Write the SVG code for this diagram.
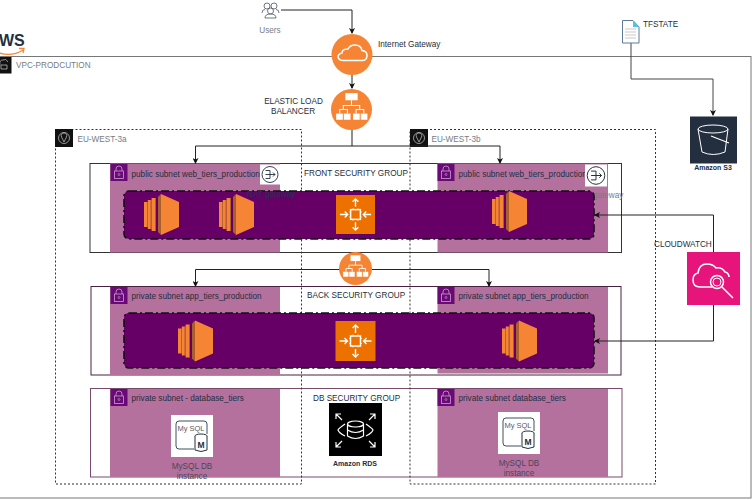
<svg xmlns="http://www.w3.org/2000/svg" width="752" height="500" viewBox="0 0 752 500">
<style>
text{font-family:"Liberation Sans",Arial,sans-serif;font-size:8.2px;fill:#232F3E}
.g{fill:#777c82}
.d{fill:#4a4658}
.m{text-anchor:middle}
.b{font-weight:bold;font-size:7px}
.az{fill:none;stroke:#333;stroke-width:1;stroke-dasharray:2 2}
.sg{fill:#fff;stroke-width:1}
.sn{fill:#B5719D}
.pg{fill:#660066;stroke:#111;stroke-width:1.6;stroke-dasharray:8 3 2 3}
.c{fill:none;stroke:#222;stroke-width:1}
.w{fill:none;stroke:#fff;stroke-width:1.5}
</style>
<defs>
<marker id="a" markerWidth="6" markerHeight="6" refX="5" refY="3" orient="auto"><path d="M0 0L6 3L0 6L1.500 3Z" fill="#111"/></marker>
<symbol id="lock" viewBox="0 0 17 17" overflow="visible">
<rect width="17" height="17" fill="#6A0A78"/>
<rect x="4" y="7" width="9" height="7.500" fill="none" stroke="#C9A0C8" stroke-width=".8"/>
<path d="M5.500 7V5a3 3 0 0 1 6 0V7" fill="none" stroke="#C9A0C8" stroke-width=".8"/>
<circle cx="8.500" cy="10.500" r="1" fill="none" stroke="#C9A0C8" stroke-width=".6"/>
</symbol>
<symbol id="ec2" viewBox="0 0 35 41" overflow="visible">
<rect x="0" y="8" width="3" height="25" fill="#F58534"/><rect x="3" y="8" width=".8" height="25" fill="#B5702C"/>
<rect x="3.800" y="6" width="3" height="29" fill="#F58534"/><rect x="6.800" y="6" width=".8" height="29" fill="#B5702C"/>
<rect x="7.600" y="4" width="3.600" height="33" fill="#F58534"/><rect x="11.200" y="4" width=".8" height="33" fill="#B5702C"/>
<path d="M14 3L17 0V41L14 38Z" fill="#A85F2A"/>
<path d="M17 0L35 8V33L17 41Z" fill="#F58534"/>
</symbol>
<symbol id="chip" viewBox="0 0 40 40" overflow="visible">
<rect width="40" height="40" fill="#ED7100"/>
<g fill="none" stroke="#fff" stroke-width="1.500">
<rect x="15" y="15" width="10" height="10"/>
<path d="M20 12V4M17 7L20 4L23 7M20 28V36M17 33L20 36L23 33M4 20H12M9 17L12 20L9 23M36 20H28M31 17L28 20L31 23" stroke-width="1.400"/>
<path d="M17.500 15V13.500M22.500 15V13.500M17.500 25V26.500M22.500 25V26.500M15 17.500H13.500M15 22.500H13.500M25 17.500H26.500M25 22.500H26.500" stroke-width=".7"/>
</g>
</symbol>
<symbol id="nat" viewBox="0 0 20 20" overflow="visible">
<rect width="20" height="20" fill="#fff"/>
<circle cx="10" cy="10" r="8" fill="none" stroke="#232F3E" stroke-width=".9"/>
<path d="M5.500 6H10V14H5.500M5.500 10H15M13 8L15 10L13 12" fill="none" stroke="#232F3E" stroke-width=".9"/>
</symbol>
<symbol id="mysql" viewBox="0 0 42 42" overflow="visible">
<rect width="42" height="42" fill="#fff"/>
<path d="M23 34H8Q5 34 5 31V9Q5 6 8 6H33Q36 6 36 9V19" fill="none" stroke="#3F4E5F" stroke-width="1"/>
<text x="20" y="16" class="m" style="font-size:7.500px;fill:#55606c">My SQL</text>
<ellipse cx="30" cy="21" rx="6" ry="2" fill="#fff" stroke="#232F3E"/>
<path d="M24 21V35Q30 38 36 35V21" fill="#fff" stroke="#232F3E"/>
<text x="30" y="33" class="m" style="font-size:8.500px;font-weight:bold">M</text>
</symbol>
<symbol id="alb" viewBox="-20 -20 40 40" overflow="visible">
<circle r="20" fill="#F58534"/>
<g fill="#fff"><rect x="-6" y="-16" width="12" height="7"/><rect x="-15" y="4" width="6.500" height="6"/><rect x="-7.500" y="4" width="6.500" height="6"/><rect x="1.500" y="4" width="6.500" height="6"/><rect x="9" y="4" width="6.500" height="6"/></g>
<path d="M0 -9V-4M-8 0V-4H8V0M-11.500 4V0H-4V4M4.500 4V0H12V4" fill="none" stroke="#fff" stroke-width="1"/>
</symbol>
</defs>

<g id="vpc">
<rect x="-10" y="56.500" width="761" height="441.500" fill="none" stroke="#777" stroke-width="1"/>
<rect x="-6" y="57" width="17.500" height="16.500" fill="#111"/>
<path d="M1 69H7V65H1ZM0 65Q-1 60 3 60Q6 58 8 62" fill="none" stroke="#ccc" stroke-width=".7"/>
<text x="16" y="68" class="g">VPC-PRODCUTION</text>
</g>
<g id="aws-logo">
<text x="-1" y="46" style="font-size:16px;font-weight:bold">WS</text>
<path d="M-1 53Q12 57 23 50M19 48.500L24 48.500L23 53" fill="none" stroke="#F58534" stroke-width="1.300"/>
</g>

<g id="front-sg"><rect class="sg" x="90" y="163.500" width="531.500" height="89" stroke="#333"/><text x="304" y="175.500">FRONT SECURITY GROUP</text></g>
<g id="back-sg"><rect class="sg" x="91" y="286.500" width="530" height="88.500" stroke="#4a2040"/><text x="307" y="298">BACK SECURITY GROUP</text></g>
<g id="db-sg"><rect class="sg" x="90.500" y="388.500" width="531.500" height="88.500" stroke="#7a4a6a"/><text x="313" y="400.500">DB SECURITY GROUP</text></g>

<g id="az-a"><rect class="az" x="55.500" y="129.500" width="246" height="354.500"/><rect x="55" y="129" width="18" height="18" fill="#111"/><circle cx="64" cy="138" r="5.500" fill="none" stroke="#ccc" stroke-width=".7"/><path d="M64 142L61.500 137a2.800 2.800 0 1 1 5 0Z" fill="none" stroke="#ccc" stroke-width=".7"/><text x="77.500" y="141.500" class="g">EU-WEST-3a</text></g>
<g id="az-b"><rect class="az" x="410" y="129.500" width="245.500" height="354.500"/><rect x="410" y="129" width="18" height="18" fill="#111"/><circle cx="419" cy="138" r="5.500" fill="none" stroke="#ccc" stroke-width=".7"/><path d="M419 142L416.500 137a2.800 2.800 0 1 1 5 0Z" fill="none" stroke="#ccc" stroke-width=".7"/><text x="431.500" y="141.500" class="g">EU-WEST-3b</text></g>

<g id="subnet-pub-a"><rect class="sn" x="110" y="163.500" width="170" height="89"/><use href="#lock" x="110.500" y="164" width="17" height="17"/><text x="131.500" y="176.500">public subnet web_tiers_production</text><use href="#nat" x="260" y="164" width="20" height="21"/></g>
<g id="subnet-pub-b"><rect class="sn" x="437.500" y="163.500" width="170.500" height="89"/><use href="#lock" x="437.500" y="164" width="17" height="17"/><text x="458.500" y="176.500">public subnet web_tiers_production</text><use href="#nat" x="585" y="164" width="22" height="23"/><text x="575" y="198" class="g">NAT gateway</text></g>
<g id="subnet-app-a"><rect class="sn" x="110" y="287" width="170" height="88"/><use href="#lock" x="110.500" y="287" width="17" height="17"/><text x="131.500" y="298.500">private subnet app_tiers_production</text></g>
<g id="subnet-app-b"><rect class="sn" x="437.500" y="287" width="170.500" height="86.500"/><use href="#lock" x="437.500" y="287" width="17" height="17"/><text x="458.500" y="298.500">private subnet app_tiers_production</text></g>
<g id="subnet-db-a"><rect class="sn" x="110" y="389" width="170" height="88"/><use href="#lock" x="110.500" y="389" width="17" height="17"/><text x="131.500" y="400.500">private subnet - database_tiers</text><use href="#mysql" x="171" y="415" width="42" height="42"/><text x="192" y="469" class="m d">MySQL DB</text><text x="192" y="478.500" class="m d">instance</text></g>
<g id="subnet-db-b"><rect class="sn" x="437.500" y="389" width="170.500" height="88"/><use href="#lock" x="437.500" y="389" width="17" height="17"/><text x="458.500" y="400.500">private subnet database_tiers</text><use href="#mysql" x="498" y="412" width="42" height="42"/><text x="519" y="465.500" class="m d">MySQL DB</text><text x="519" y="475.500" class="m d">instance</text></g>

<g id="asg-front"><rect class="pg" x="124" y="191" width="470" height="48" rx="5"/></g>
<g id="asg-back"><rect class="pg" x="124" y="313" width="470" height="55" rx="5"/></g>
<text x="247" y="197" style="fill:#2b2f55">NAT gateway</text>

<g id="ec2-1"><use href="#ec2" x="144" y="194" width="35" height="41"/></g>
<g id="ec2-2"><use href="#ec2" x="219" y="194" width="35" height="41"/></g>
<g id="ec2-3"><use href="#ec2" x="492" y="191" width="35" height="41"/></g>
<g id="ec2-4"><use href="#ec2" x="178" y="320.500" width="35" height="41"/></g>
<g id="ec2-5"><use href="#ec2" x="502" y="320.500" width="35" height="41"/></g>
<g id="asg-icon-1"><use href="#chip" x="336" y="195" width="39" height="39"/></g>
<g id="asg-icon-2"><use href="#chip" x="335" y="321" width="41" height="40"/></g>

<g id="connectors">
<path class="c" d="M281 10H352V33" marker-end="url(#a)"/>
<path class="c" d="M352 74V88" marker-end="url(#a)"/>
<path class="c" d="M352 129V146H195.500V163" marker-end="url(#a)"/>
<path class="c" d="M352 146H500V163" marker-end="url(#a)"/>
<path class="c" d="M340 269.500H195.500V286" marker-end="url(#a)"/>
<path class="c" d="M372 269.500H489V286" marker-end="url(#a)"/>
<path d="M631 43V79H713V115" fill="none" stroke="#444" stroke-width="1" marker-end="url(#a)"/>
<path class="c" d="M713.500 252V215H595" marker-end="url(#a)"/>
<path class="c" d="M713.500 305V341H595" marker-end="url(#a)"/>
</g>

<g id="users"><g fill="none" stroke="#4a5560" stroke-width=".8"><circle cx="267" cy="6" r="3"/><circle cx="274" cy="6" r="3"/><circle cx="270.500" cy="11" r="3"/><path d="M262 13Q262 9.500 265 9.500M279 13Q279 9.500 276 9.500M265 18Q265 14 270.500 14Q276 14 276 18Z"/></g><text x="270" y="32.500" class="m g">Users</text></g>
<g id="internet-gateway"><circle cx="352" cy="54.500" r="20.500" fill="#F58534"/><path class="w" d="M343 60.500H362Q367 60.500 367 55.500Q367 51 362 50.500Q361 45 355 45Q350 45 348 49Q342 49 342 53Q338 54 338 57Q339 60.500 343 60.500Z"/><text x="378" y="47">Internet Gateway</text></g>
<g id="elb"><use href="#alb" x="331" y="89" width="41" height="41"/><text x="293.500" y="103.500" class="m">ELASTIC LOAD</text><text x="293" y="113.500" class="m">BALANCER</text></g>
<g id="alb-internal"><use href="#alb" x="339" y="252" width="33" height="33"/></g>
<g id="tfstate"><path d="M622.500 20.500H633L639 27V43H622.500Z" fill="#fff" stroke="#5d7a9c"/><path d="M633 20.500V27H639Z" fill="#4FC3E8"/><path d="M625 29H636M625 32H636M625 35H636M625 38H636" stroke="#bbb" stroke-width=".8"/><text x="643" y="26.500">TFSTATE</text></g>
<g id="s3"><rect x="690" y="116.500" width="47" height="47" fill="#232F3E"/><path d="M698 129L702 152Q713 157 725 152L728 129" fill="none" stroke="#fff" stroke-width="1"/><ellipse cx="713" cy="129" rx="15" ry="4" fill="none" stroke="#fff"/><path d="M711 136L729 143" stroke="#fff" stroke-width="1.200"/><text x="713" y="170" class="m b">Amazon S3</text></g>
<g id="cloudwatch"><rect x="687" y="252" width="53" height="53" fill="#E7157B"/><path class="w" d="M712 287H700Q693 287 693 280Q693 274 698 273Q699 264 707 264Q713 264 716 268Q722 267 725 272Q729 273 729 277"/><circle cx="717" cy="282" r="6.500" class="w"/><circle cx="717" cy="282" r="4" fill="none" stroke="#fff"/><path class="w" d="M722 287L733 298"/><text x="654" y="247">CLOUDWATCH</text></g>
<g id="rds"><rect x="329" y="403" width="53" height="53" fill="#000"/><g class="w" style="stroke-width:1.200"><ellipse cx="355.500" cy="424" rx="8" ry="3"/><path d="M347.500 424V436Q355.500 441 363.500 436V424M347.500 430Q355.500 435 363.500 430M345 424Q338 429 338 430Q339 433 345 436M366 424Q373 429 373 430Q372 433 366 436M342 420L336 414M336 419V414H341M369 420L375 414M375 419V414H370M342 441L336 447M336 442V447H341M369 441L375 447M375 442V447H370"/></g><text x="355" y="466" class="m b">Amazon RDS</text></g>
</svg>
